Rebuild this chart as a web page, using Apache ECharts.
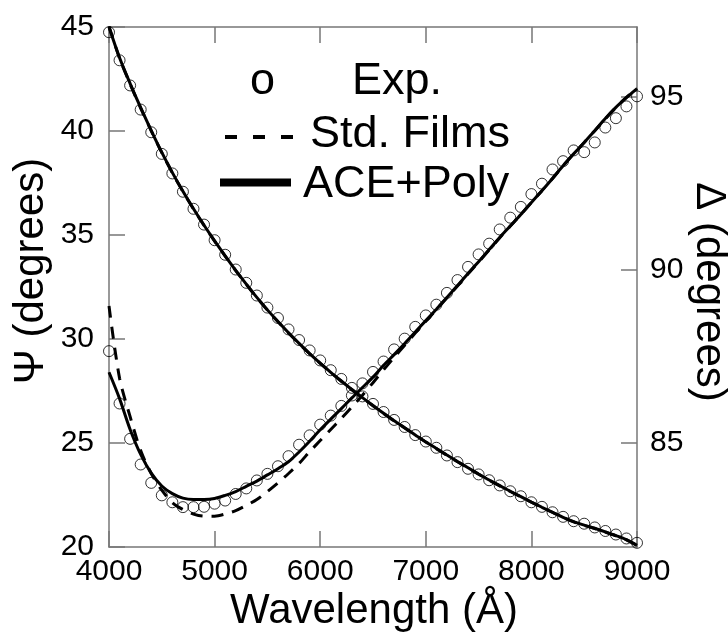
<!DOCTYPE html>
<html>
<head>
<meta charset="utf-8">
<script src="https://cdn.jsdelivr.net/npm/echarts@6/dist/echarts.min.js"></script>
<style>
html,body{margin:0;padding:0;background:#fff;}
#chart{width:728px;height:636px;}
</style>
</head>
<body>
<div id="chart"></div>
<script>
var wavelength = [4000,4100,4200,4300,4400,4500,4600,4700,4800,4900,
  5000,5100,5200,5300,5400,5500,5600,5700,5800,5900,
  6000,6100,6200,6300,6400,6500,6600,6700,6800,6900,
  7000,7100,7200,7300,7400,7500,7600,7700,7800,7900,
  8000,8100,8200,8300,8400,8500,8600,8700,8800,8900,9000];

var psiExp = [44.75,43.40,42.19,41.03,39.94,38.90,37.96,37.08,36.26,35.50,
  34.75,34.05,33.34,32.70,32.09,31.51,31.01,30.46,29.95,29.45,
  28.97,28.50,28.08,27.65,27.24,26.88,26.49,26.11,25.77,25.38,
  25.07,24.77,24.40,24.08,23.76,23.49,23.21,22.96,22.68,22.44,
  22.15,21.93,21.67,21.45,21.24,21.12,20.94,20.77,20.60,20.41,20.20];

var psiAce = [45.00,43.52,42.28,41.12,40.02,38.97,38.00,37.10,36.26,35.47,
  34.72,34.00,33.30,32.64,32.00,31.40,30.84,30.30,29.79,29.30,
  28.84,28.40,27.98,27.57,27.18,26.80,26.43,26.07,25.73,25.39,
  25.05,24.74,24.42,24.11,23.81,23.51,23.22,22.95,22.68,22.42,
  22.16,21.91,21.67,21.43,21.22,21.05,20.90,20.73,20.55,20.35,20.08];

var psiStd = [45.03,43.50,42.26,41.10,40.01,38.96,37.99,37.09,36.25,35.46,
  34.71,33.99,33.29,32.63,31.99,31.39,30.83,30.29,29.78,29.29,
  28.83,28.39,27.97,27.56,27.17,26.79,26.42,26.06,25.72,25.38,
  25.05,24.73,24.41,24.10,23.80,23.50,23.21,22.94,22.67,22.41,
  22.15,21.90,21.66,21.42,21.21,21.04,20.89,20.72,20.54,20.34,20.07];

var deltaExp = [87.65,86.14,85.12,84.38,83.85,83.49,83.29,83.15,83.15,83.16,
  83.25,83.34,83.53,83.69,83.92,84.11,84.33,84.62,84.95,85.22,
  85.53,85.79,86.07,86.37,86.72,87.05,87.35,87.70,88.01,88.35,
  88.68,88.99,89.33,89.70,90.08,90.44,90.75,91.16,91.50,91.81,
  92.18,92.48,92.89,93.13,93.44,93.39,93.67,94.10,94.37,94.71,95.00];

var deltaAce = [87.04,86.28,85.39,84.67,84.13,83.76,83.54,83.41,83.37,83.37,
  83.40,83.49,83.60,83.75,83.90,84.08,84.26,84.46,84.74,85.05,
  85.38,85.69,85.99,86.30,86.60,86.90,87.24,87.55,87.87,88.20,
  88.53,88.86,89.20,89.54,89.89,90.23,90.58,90.93,91.26,91.59,
  91.94,92.28,92.63,93.00,93.34,93.67,94.01,94.36,94.68,94.96,95.22];

var deltaStd = [88.95,86.87,85.76,84.78,84.12,83.64,83.28,83.08,82.95,82.89,
  82.89,82.95,83.05,83.20,83.37,83.60,83.85,84.12,84.41,84.75,
  85.07,85.39,85.71,86.04,86.38,86.74,87.11,87.47,87.82,88.17,
  88.51,88.85,89.19,89.53,89.88,90.22,90.57,90.92,91.26,91.59,
  91.94,92.28,92.63,92.99,93.34,93.67,94.01,94.35,94.68,94.97,95.23];

var psiTicks = [20,25,30,35,40,45];
var deltaTicks = [85,90,95];
var legendLabels = ['Exp.', 'Std. Films', 'ACE+Poly'];

function pairs(xs, ys){ return xs.map(function(x,i){ return [x, ys[i]]; }); }

var FONT = '"Liberation Sans", Arial, Helvetica, sans-serif';
var AX = '#777';

var chart = echarts.init(document.getElementById('chart'), null, {renderer:'canvas'});

var lineBase = {type:'line', showSymbol:false, symbol:'none', smooth:0.3, clip:false, z:3};

chart.setOption({
  animation:false,
  backgroundColor:'#fff',
  grid:{left:109, right:91, top:27, bottom:89, containLabel:false},
  xAxis:[{
    type:'value', position:'bottom', min:4000, max:9000, interval:1000,
    axisLine:{show:true, lineStyle:{color:AX, width:1.5}},
    axisTick:{show:true, inside:true, length:16, lineStyle:{color:AX, width:1.5}},
    axisLabel:{show:true, margin:10, color:'#000', fontSize:30, fontFamily:FONT,
      formatter:function(v){ return String(v); }},
    splitLine:{show:false}
  },{
    type:'value', position:'top', min:4000, max:9000, interval:1000,
    axisLine:{show:true, lineStyle:{color:AX, width:1.5}},
    axisTick:{show:true, inside:true, length:16, lineStyle:{color:AX, width:1.5}},
    axisLabel:{show:false},
    splitLine:{show:false}
  }],
  yAxis:[{
    type:'value', position:'left', min:20, max:45, interval:5,
    axisLine:{show:true, lineStyle:{color:AX, width:1.5}},
    axisTick:{show:true, inside:true, length:16, lineStyle:{color:AX, width:1.5}},
    axisLabel:{show:true, margin:15, color:'#000', fontSize:30, fontFamily:FONT,
      customValues: psiTicks},
    splitLine:{show:false}
  },{
    type:'value', position:'right', min:82, max:97,
    axisLine:{show:true, lineStyle:{color:AX, width:1.5}},
    axisTick:{show:true, inside:true, length:16, lineStyle:{color:AX, width:1.5},
      customValues: deltaTicks},
    axisLabel:{show:true, margin:13, color:'#000', fontSize:30, fontFamily:FONT,
      customValues: deltaTicks},
    splitLine:{show:false}
  }],
  series:[
    Object.assign({}, lineBase, {name:legendLabels[1], yAxisIndex:0, data:pairs(wavelength, psiStd),
      lineStyle:{color:'#000', width:3, type:[12,9]}}),
    Object.assign({}, lineBase, {name:legendLabels[2], yAxisIndex:0, data:pairs(wavelength, psiAce),
      lineStyle:{color:'#000', width:3}}),
    Object.assign({}, lineBase, {name:legendLabels[1], yAxisIndex:1, data:pairs(wavelength, deltaStd),
      lineStyle:{color:'#000', width:3, type:[12,9]}}),
    Object.assign({}, lineBase, {name:legendLabels[2], yAxisIndex:1, data:pairs(wavelength, deltaAce),
      lineStyle:{color:'#000', width:3}}),
    {type:'scatter', name:legendLabels[0], yAxisIndex:0, data:pairs(wavelength, psiExp),
      symbol:'circle', symbolSize:11, clip:false, z:4,
      itemStyle:{color:'rgba(0,0,0,0)', borderColor:'#000', borderWidth:1}},
    {type:'scatter', name:legendLabels[0], yAxisIndex:1, data:pairs(wavelength, deltaExp),
      symbol:'circle', symbolSize:11, clip:false, z:4,
      itemStyle:{color:'rgba(0,0,0,0)', borderColor:'#000', borderWidth:1}}
  ],
  graphic:[
    {type:'text', x:374, y:611, style:{text:'Wavelength (Å)', font:'42px '+FONT, fill:'#000', align:'center', verticalAlign:'middle'}},
    {type:'text', x:31, y:271, rotation:Math.PI/2, style:{text:'Ψ (degrees)', font:'42px '+FONT, fill:'#000', align:'center', verticalAlign:'middle'}},
    {type:'text', x:709, y:292, rotation:-Math.PI/2, style:{text:'Δ (degrees)', font:'42px '+FONT, fill:'#000', align:'center', verticalAlign:'middle'}},
    {type:'text', x:250, y:82, style:{text:'o', font:'45px '+FONT, fill:'#000', align:'left', verticalAlign:'middle'}},
    {type:'text', x:352, y:82, style:{text:legendLabels[0], font:'45px '+FONT, fill:'#000', align:'left', verticalAlign:'middle'}},
    {type:'line', shape:{x1:225, y1:137, x2:293, y2:137}, style:{stroke:'#000', lineWidth:4, lineDash:[12,16]}},
    {type:'text', x:310, y:135, style:{text:legendLabels[1], font:'45px '+FONT, fill:'#000', align:'left', verticalAlign:'middle'}},
    {type:'line', shape:{x1:220, y1:182.5, x2:291, y2:182.5}, style:{stroke:'#000', lineWidth:8}},
    {type:'text', x:303, y:185, style:{text:legendLabels[2], font:'45px '+FONT, fill:'#000', align:'left', verticalAlign:'middle'}}
  ]
});
</script>
</body>
</html>
